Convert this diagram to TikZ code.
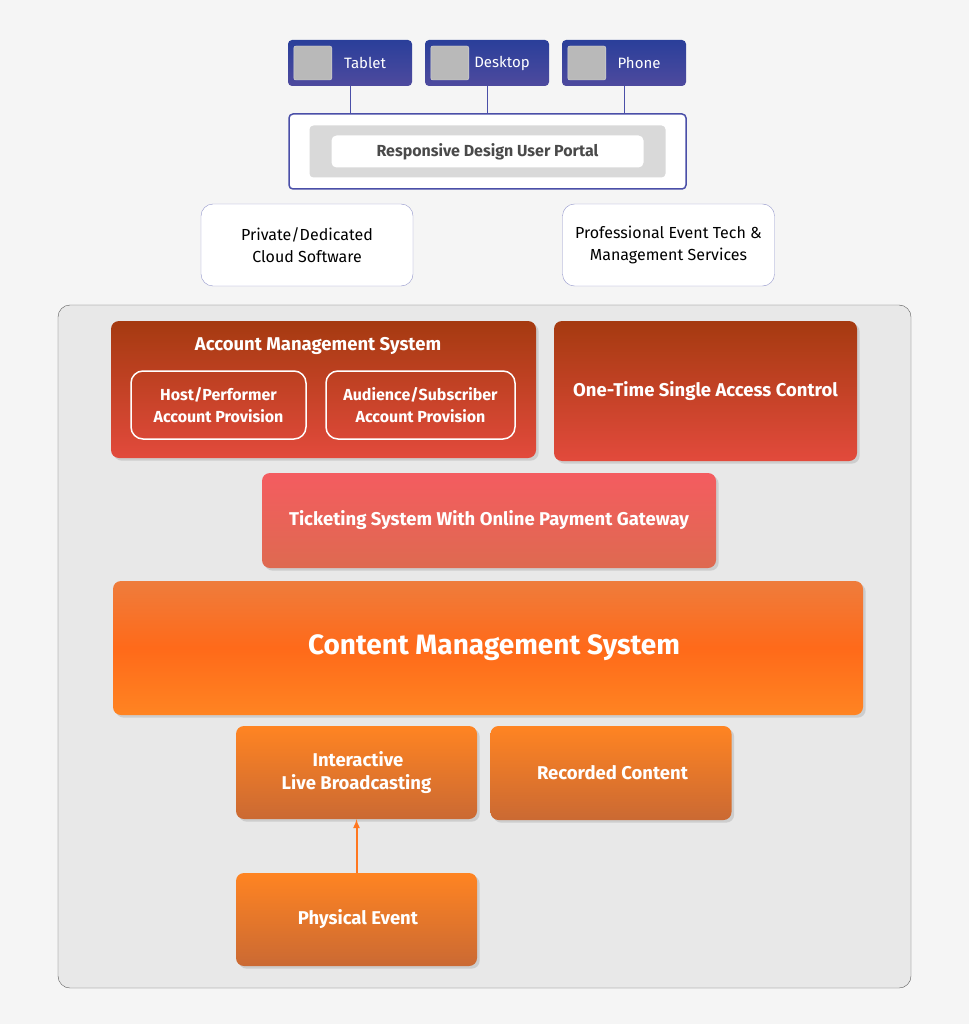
\documentclass[tikz,border=0pt]{standalone}
\usepackage{fontspec}
\setmainfont{Fira Sans}
\usetikzlibrary{positioning,calc,shadows}
\definecolor{pagebg}{HTML}{F5F5F5}
\definecolor{devtop}{HTML}{2A3F9A}
\definecolor{devbot}{HTML}{4E4A9E}
\definecolor{lineblue}{HTML}{4A4FA8}
\definecolor{panelbg}{HTML}{E8E8E8}
\definecolor{redtop}{HTML}{A53A10}
\definecolor{redbot}{HTML}{E24A3C}
\definecolor{tickettop}{HTML}{F45C60}
\definecolor{ticketbot}{HTML}{DE6A50}
\definecolor{orangetop}{HTML}{EE7C3C}
\definecolor{orangebot}{HTML}{FF8422}
\definecolor{textgray}{HTML}{4A4A4A}
\tikzset{
  px/.style={x=1pt,y=-1pt},
  box/.style={rounded corners=8pt,minimum width=#1,inner sep=0pt,align=center,font=\fontsize{18.5}{23}\selectfont\bfseries,text=white},
  device/.style={box=124pt,minimum height=46pt,rounded corners=4pt,top color=devtop,bottom color=devbot,font=\fontsize{15}{17}\selectfont,text=white},
  icon/.style={fill=gray!55,draw=white!70!gray,minimum width=38pt,minimum height=34pt,rounded corners=2pt,inner sep=0pt},
  cloud/.style={box=212pt,minimum height=82pt,fill=white,draw=lineblue!60,rounded corners=12pt,text=black,font=\fontsize{16}{22}\selectfont},
  redbox/.style={box=#1,top color=redtop,bottom color=redbot,drop shadow={opacity=0.25}},
  subbox/.style={box=#1,minimum height=68pt,draw=white,line width=1.5pt,rounded corners=12pt,fill=none,font=\fontsize{16}{22}\selectfont\bfseries},
  orbox/.style={box=241pt,minimum height=93pt,top color=orangebot,bottom color=orangetop!85!black,drop shadow={opacity=0.25}},
}
\begin{document}
\begin{tikzpicture}[px]
\fill[pagebg] (0,0) rectangle (969,1024);
\useasboundingbox (0,0) rectangle (969,1024);
% devices
\node[device] (tablet) at (350,63) {\hspace*{30pt}Tablet};
\node[device] (desktop) at (487,63) {\hspace*{30pt}Desktop};
\node[device] (phone) at (624,63) {\hspace*{30pt}Phone};
\foreach \d in {tablet,desktop,phone}
  \node[icon] at ($(\d.west)+(25,0)$) {};
% portal
\node[fill=white,draw=lineblue,line width=1.5pt,minimum width=397pt,minimum height=75pt,rounded corners=4pt,inner sep=0pt] (portal) at (487.5,151.5) {};
\node[fill=gray!30,minimum width=356pt,minimum height=52pt,rounded corners=4pt] at (portal) {};
\node[fill=white,minimum width=312pt,minimum height=32pt,rounded corners=5pt,inner sep=0pt,text=textgray,font=\fontsize{16}{18}\selectfont\bfseries] (portaltext) at (portal) {Responsive Design User Portal};
\foreach \d in {tablet,desktop,phone}
  \draw[lineblue,thick] (\d.south) -- (\d.south |- portal.north);
% cloud boxes
\node[cloud] (private) at (307,245) {Private/Dedicated\\Cloud Software};
\node[cloud] (services) at (668.5,245) {Professional Event Tech \&\\Management Services};
% main panel
\draw[fill=panelbg,draw=gray!70!black,rounded corners=12pt] (58,305) rectangle (911,988);
% account management
\node[redbox=425pt,minimum height=137pt] (account) at (323.5,389.5) {};
\node[text=white,font=\fontsize{18.5}{23}\selectfont\bfseries] at (318,346) {Account Management System};
\node[subbox=175pt] (host) at (218.5,405) {Host/Performer\\Account Provision};
\node[subbox=189pt] (audience) at (420.5,405) {Audience/Subscriber\\Account Provision};
\node[redbox=303pt,minimum height=140pt] (access) at (705.5,391) {One-Time Single Access Control};
% ticketing
\node[box=454pt,minimum height=95pt,top color=tickettop,bottom color=ticketbot,drop shadow={opacity=0.25}] (ticket) at (489,520.5) {Ticketing System With Online Payment Gateway};
% cms
\node[box=750pt,minimum height=134pt,top color=orangetop,bottom color=orangebot,middle color=orange!70!red!90,drop shadow={opacity=0.25},font=\fontsize{28}{32}\selectfont\bfseries] (cms) at (488,648) {\hspace*{12pt}Content Management System};
% content
\node[orbox] (live) at (356.5,772.5) {\hspace*{3pt}Interactive\\Live Broadcasting};
\node[orbox,minimum height=94pt] (recorded) at (611,773) {\hspace*{3pt}Recorded Content};
\node[orbox] (physical) at (356.5,919.5) {\hspace*{3pt}Physical Event};
\draw[-latex,orangebot!90!red,line width=2pt] (physical.north) -- (live.south);
\end{tikzpicture}
\end{document}
